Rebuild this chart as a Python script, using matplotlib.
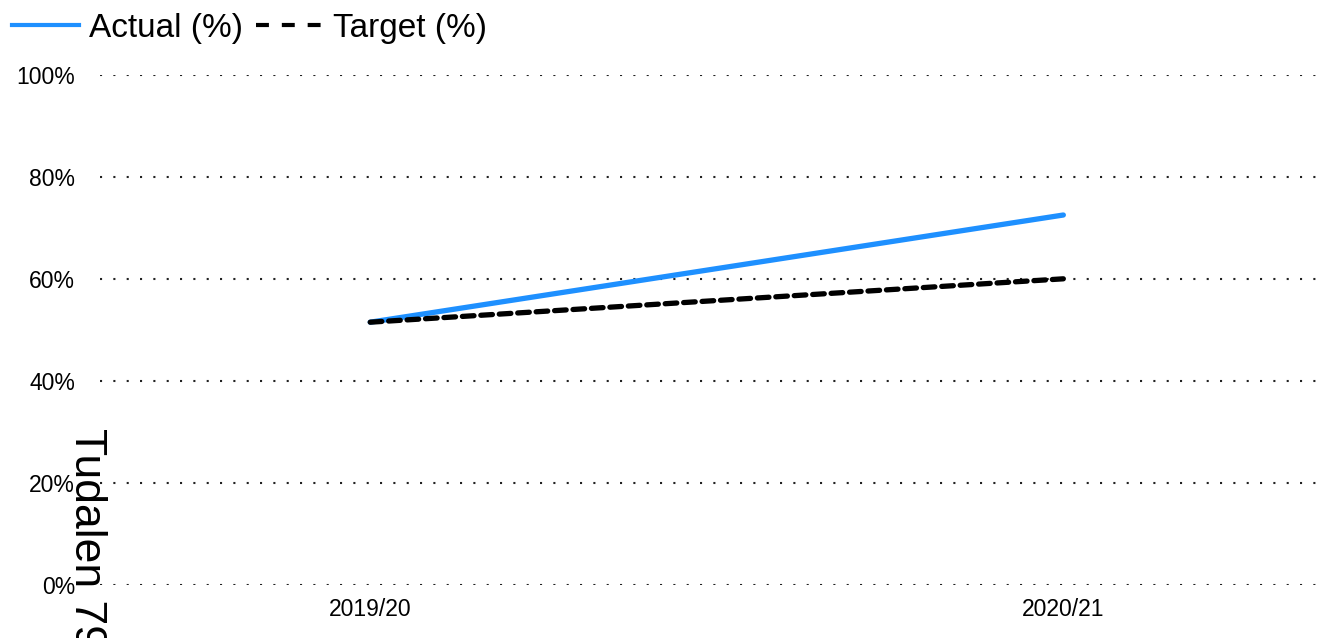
import matplotlib.pyplot as plt
from matplotlib.lines import Line2D

plt.rcParams['font.family'] = ['Liberation Sans', 'DejaVu Sans']

years = ['2019/20', '2020/21']
actual = [51.5, 72.5]
target = [51.5, 60.0]
y_ticks = [0, 20, 40, 60, 80, 100]

fig = plt.figure(figsize=(13.32, 6.38), dpi=100)
ax = fig.add_axes([0.075, 0.083, 0.92, 0.8])

x = list(range(len(years)))
ax.plot(x, actual, color='#1E90FF', linewidth=3.8, solid_capstyle='round')
ax.plot(x, target, color='black', linewidth=3.8, linestyle=(0, (2.2, 1.3)),
        dash_capstyle='round')

ax.set_xlim(-0.39, 1.378)
ax.set_ylim(0, 100)
ax.set_xticks(x)
ax.set_xticklabels(years, fontsize=16.5)
ax.set_yticks(y_ticks)
ax.set_yticklabels([f'{t}%' for t in y_ticks], fontsize=16.5)
ax.tick_params(length=0)
ax.tick_params(axis='x', pad=9)
ax.tick_params(axis='y', pad=18)
for s in ax.spines.values():
    s.set_visible(False)
ax.grid(axis='y', color='#222222', linestyle=(0, (1, 5.4)), linewidth=1.5)
ax.set_axisbelow(True)

handles = [Line2D([], [], color='#1E90FF', linewidth=3),
           Line2D([], [], color='black', linewidth=3, linestyle=(0, (3.1, 3.1)))]
fig.legend(handles, ['Actual (%)', 'Target (%)'], loc='upper left',
           bbox_to_anchor=(-0.011, 1.022), ncol=2, frameon=False, fontsize=24,
           handlelength=2.0, handletextpad=0.3, columnspacing=0.4,
           borderpad=0.3)

fig.text(0.065, 0.329, 'Tudalen 79', rotation=270, fontsize=32,
         ha='center', va='top')

fig.savefig('out.png', dpi=100)
